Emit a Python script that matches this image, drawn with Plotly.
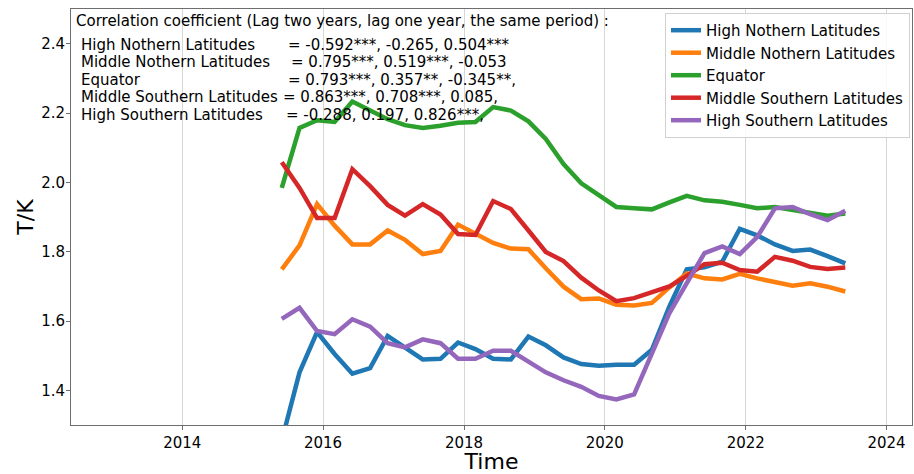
import pandas as pd
import plotly.graph_objects as go

# Quarterly sampling dates
dates = pd.date_range("2015-06-01", periods=33, freq="3MS")

series_names = [
    "High Nothern Latitudes",
    "Middle Nothern Latitudes",
    "Equator",
    "Middle Southern Latitudes",
    "High Southern Latitudes",
]

high_north = [1.255, 1.452, 1.568, 1.505, 1.448, 1.464, 1.557, 1.524, 1.489, 1.491,
              1.538, 1.519, 1.491, 1.489, 1.555, 1.530, 1.495, 1.476, 1.471, 1.474,
              1.474, 1.517, 1.642, 1.749, 1.755, 1.771, 1.866, 1.847, 1.821, 1.802,
              1.806, 1.787, 1.766]
mid_north = [1.749, 1.818, 1.937, 1.875, 1.821, 1.821, 1.861, 1.834, 1.793, 1.802,
             1.878, 1.851, 1.825, 1.809, 1.807, 1.752, 1.699, 1.663, 1.665, 1.647,
             1.645, 1.652, 1.697, 1.737, 1.723, 1.720, 1.736, 1.723, 1.714, 1.702,
             1.709, 1.699, 1.685]
equator = [1.984, 2.157, 2.179, 2.174, 2.233, 2.207, 2.182, 2.165, 2.157, 2.163,
           2.172, 2.174, 2.217, 2.207, 2.176, 2.125, 2.053, 1.997, 1.961, 1.929,
           1.925, 1.922, 1.942, 1.961, 1.948, 1.944, 1.935, 1.925, 1.929, 1.920,
           1.910, 1.904, 1.910]
mid_south = [2.058, 1.984, 1.897, 1.897, 2.038, 1.989, 1.935, 1.904, 1.937, 1.907,
             1.851, 1.848, 1.946, 1.923, 1.861, 1.799, 1.773, 1.725, 1.688, 1.657,
             1.666, 1.682, 1.700, 1.730, 1.764, 1.768, 1.747, 1.742, 1.785, 1.774,
             1.756, 1.750, 1.754]
high_south = [1.606, 1.638, 1.571, 1.562, 1.605, 1.584, 1.536, 1.524, 1.547, 1.536,
              1.491, 1.491, 1.514, 1.514, 1.483, 1.452, 1.429, 1.410, 1.384, 1.374,
              1.388, 1.510, 1.623, 1.709, 1.796, 1.815, 1.793, 1.842, 1.925, 1.929,
              1.908, 1.891, 1.918]

colors = ["#1f77b4", "#ff7f0e", "#2ca02c", "#d62728", "#9467bd"]

# Correlation coefficients per region (lag two years, lag one year, same period)
corr_text = [
    "= -0.592***, -0.265, 0.504***",
    "= 0.795***, 0.519***, -0.053",
    "= 0.793***, 0.357**, -0.345**,",
    "= 0.863***, 0.708***, 0.085,",
    "= -0.288, 0.197, 0.826***,",
]
corr_title = "Correlation coefficient (Lag two years, lag one year, the same period) :"
corr_labels = ["High Nothern Latitudes", "Middle Nothern Latitudes", "Equator",
               "Middle Southern Latitudes", "High Southern Latitudes"]

FONT = "DejaVu Sans"
W, H = 914, 474
L, R, T, B = 71, 1, 9, 44
PW, PH = W - L - R, H - T - B

fig = go.Figure()
for name, ys, c in zip(series_names, [high_north, mid_north, equator, mid_south, high_south], colors):
    fig.add_trace(go.Scatter(x=dates, y=ys, mode="lines", name=name,
                             line=dict(color=c, width=4.5)))


def px_x(p):
    return (p - L) / PW


def px_y(p):
    return (H - B - p) / PH


annotations = [dict(text=corr_title, x=px_x(74), y=px_y(21), xref="paper", yref="paper",
                    xanchor="left", yanchor="middle", showarrow=False,
                    font=dict(family=FONT, size=15, color="black"))]
label_y = [45, 63, 81, 98, 116]
eq_x = [286, 289, 286, 281, 284]
for lab, val, yy, ex in zip(corr_labels, corr_text, label_y, eq_x):
    annotations.append(dict(text=lab, x=px_x(79), y=px_y(yy), xref="paper", yref="paper",
                            xanchor="left", yanchor="middle", showarrow=False,
                            font=dict(family=FONT, size=15, color="black")))
    annotations.append(dict(text=val, x=px_x(ex), y=px_y(yy), xref="paper", yref="paper",
                            xanchor="left", yanchor="middle", showarrow=False,
                            font=dict(family=FONT, size=15, color="black")))

fig.update_layout(
    width=W, height=H,
    margin=dict(l=L, r=R, t=T, b=B, pad=0),
    paper_bgcolor="white", plot_bgcolor="white",
    font=dict(family=FONT, size=15, color="black"),
    showlegend=True,
    legend=dict(x=px_x(911), y=px_y(13), xanchor="right", yanchor="top",
                bgcolor="rgba(255,255,255,0.85)", bordercolor="#d0d0d0", borderwidth=1,
                font=dict(family=FONT, size=15, color="black")),
    annotations=annotations,
)

fig.update_xaxes(
    type="date",
    range=["2012-06-03", "2024-05-12"],
    tick0="2014-01-01", dtick="M24", tickformat="%Y",
    showgrid=True, gridcolor="#d6d6d6", gridwidth=1,
    showline=True, linecolor="#6e6e6e", linewidth=1, mirror=True,
    ticks="outside", ticklen=4, tickcolor="#6e6e6e",
    tickfont=dict(family=FONT, size=15, color="black"),
    title=dict(text="Time", font=dict(family=FONT, size=22, color="black"), standoff=6),
    zeroline=False,
)
fig.update_yaxes(
    range=[1.3, 2.5],
    tickvals=[1.4, 1.6, 1.8, 2.0, 2.2, 2.4], tickformat=".1f",
    showgrid=False,
    showline=True, linecolor="#6e6e6e", linewidth=1, mirror=True,
    ticks="outside", ticklen=4, tickcolor="#6e6e6e", ticklabelstandoff=-2,
    tickfont=dict(family=FONT, size=15, color="black"),
    title=dict(text="T/K", font=dict(family=FONT, size=22, color="black"), standoff=1),
    zeroline=False,
)

fig.write_html("out.html")
